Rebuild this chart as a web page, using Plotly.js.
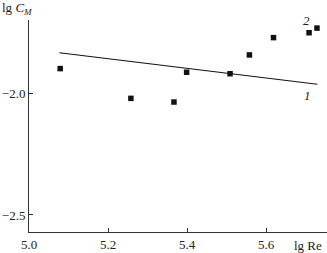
<!DOCTYPE html>
<html><head><meta charset="utf-8">
<script src="https://cdn.plot.ly/plotly-3.0.1.min.js"></script>
<style>html,body{margin:0;padding:0;background:#fff;}#c{width:327px;height:253px;}</style>
</head><body><div id="c"></div>
<script>
var lgRe = [5.079, 5.258, 5.367, 5.399, 5.509, 5.558, 5.619, 5.709, 5.729];
var lgCM = [-1.900, -2.022, -2.037, -1.915, -1.921, -1.844, -1.773, -1.753, -1.734];
var fitX = [5.077, 5.730];
var fitY = [-1.835, -1.964];
var xTicks = [5.0, 5.2, 5.4, 5.6];
var xTickText = ["5.0", "5.2", "5.4", "5.6"];
var yTicks = [-2.0, -2.5];
var yTickText = ["\u22122.0", "\u22122.5"];

var font = {family: "Liberation Serif, Times New Roman, serif", size: 13, color: "#222"};
var data = [
  {x: fitX, y: fitY, mode: "lines", line: {color: "#111", width: 1.1}, hoverinfo: "none"},
  {x: lgRe, y: lgCM, mode: "markers", marker: {symbol: "square", size: 5.5, color: "#111"}, hoverinfo: "none"}
];
var layout = {
  width: 327, height: 253,
  margin: {l: 29, r: 0, t: 20, b: 21},
  paper_bgcolor: "#fff", plot_bgcolor: "#fff",
  showlegend: false,
  font: font,
  xaxis: {range: [5.0, 5.7544], tickvals: xTicks, ticktext: xTickText, ticks: "inside", ticklen: 4,
    tickcolor: "#333", showline: true, linecolor: "#333", linewidth: 1, showgrid: false, zeroline: false,
    tickfont: font},
  yaxis: {range: [-2.5697, -1.7008], tickvals: yTicks, ticktext: yTickText, ticks: "inside", ticklen: 4,
    tickcolor: "#333", showline: true, linecolor: "#333", linewidth: 1, showgrid: false, zeroline: false,
    tickfont: font},
  annotations: [
    {text: "lg <i>C</i><sub><i>M</i></sub>", xref: "paper", yref: "paper", x: -29/298, y: 1, xanchor: "left", yanchor: "bottom", yshift: 1, showarrow: false, font: font},
    {text: "lg Re", xref: "paper", yref: "paper", x: 1, y: 0, xanchor: "right", yanchor: "top", xshift: -3, yshift: -4, showarrow: false, font: font},
    {text: "<i>2</i>", x: 5.703, y: -1.704, showarrow: false, font: font},
    {text: "<i>1</i>", x: 5.705, y: -2.012, showarrow: false, font: font}
  ]
};
Plotly.newPlot("c", data, layout, {staticPlot: true, displayModeBar: false});
</script></body></html>
